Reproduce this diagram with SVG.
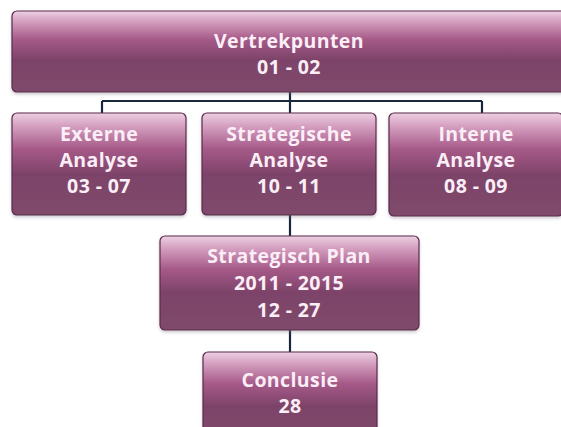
<svg xmlns="http://www.w3.org/2000/svg" width="561" height="427" viewBox="0 0 561 427">
<defs>
<linearGradient id="g" x1="0" y1="0" x2="0" y2="1">
<stop offset="0" stop-color="#ecd0e2"/>
<stop offset="0.12" stop-color="#d6a2c2"/>
<stop offset="0.35" stop-color="#a65a88"/>
<stop offset="0.6" stop-color="#7d4369"/>
<stop offset="1" stop-color="#7f4a6c"/>
</linearGradient>
<filter id="sh" x="-5%" y="-5%" width="110%" height="120%">
<feDropShadow dx="0" dy="2" stdDeviation="1.5" flood-color="#7a6a80" flood-opacity="0.35"/>
</filter>
</defs>
<style>
.box{fill:url(#g);stroke:#5a2a48;stroke-width:1.2;filter:url(#sh)}
.t{font-family:"Open Sans","DejaVu Sans",sans-serif;font-weight:700;font-size:19.5px;letter-spacing:0.4px;fill:#fbeef6;text-anchor:middle}
.c{fill:none;stroke:#18283a;stroke-width:2.2}
</style>
<rect width="561" height="427" fill="#ffffff"/>
<g id="connectors">
<path class="c" d="M290 92 V101 M102 101 H482 M102 101 V113 M290 101 V113 M482 101 V113"/>
<path class="c" d="M290 215 V236"/>
<path class="c" d="M290 330 V352"/>
</g>
<g id="vertrekpunten">
<rect class="box" x="12" y="11" width="555" height="81" rx="5"/>
<text class="t" x="289" y="48">Vertrekpunten</text>
<text class="t" x="289" y="74">01 - 02</text>
</g>
<g id="externe">
<rect class="box" x="12" y="113" width="174" height="102" rx="5"/>
<text class="t" x="99" y="141">Externe</text>
<text class="t" x="99" y="167">Analyse</text>
<text class="t" x="99" y="193">03 - 07</text>
</g>
<g id="strategische">
<rect class="box" x="202" y="113" width="174" height="102" rx="5"/>
<text class="t" x="289" y="141">Strategische</text>
<text class="t" x="289" y="167">Analyse</text>
<text class="t" x="289" y="193">10 - 11</text>
</g>
<g id="interne">
<rect class="box" x="389" y="113" width="174" height="103" rx="5"/>
<text class="t" x="476" y="141">Interne</text>
<text class="t" x="476" y="167">Analyse</text>
<text class="t" x="476" y="193">08 - 09</text>
</g>
<g id="plan">
<rect class="box" x="160" y="236" width="259" height="94" rx="5"/>
<text class="t" x="289" y="263">Strategisch Plan</text>
<text class="t" x="289" y="290">2011 - 2015</text>
<text class="t" x="289" y="317">12 - 27</text>
</g>
<g id="conclusie">
<rect class="box" x="203" y="352" width="174" height="90" rx="5"/>
<text class="t" x="290" y="387">Conclusie</text>
<text class="t" x="290" y="413">28</text>
</g>
</svg>
